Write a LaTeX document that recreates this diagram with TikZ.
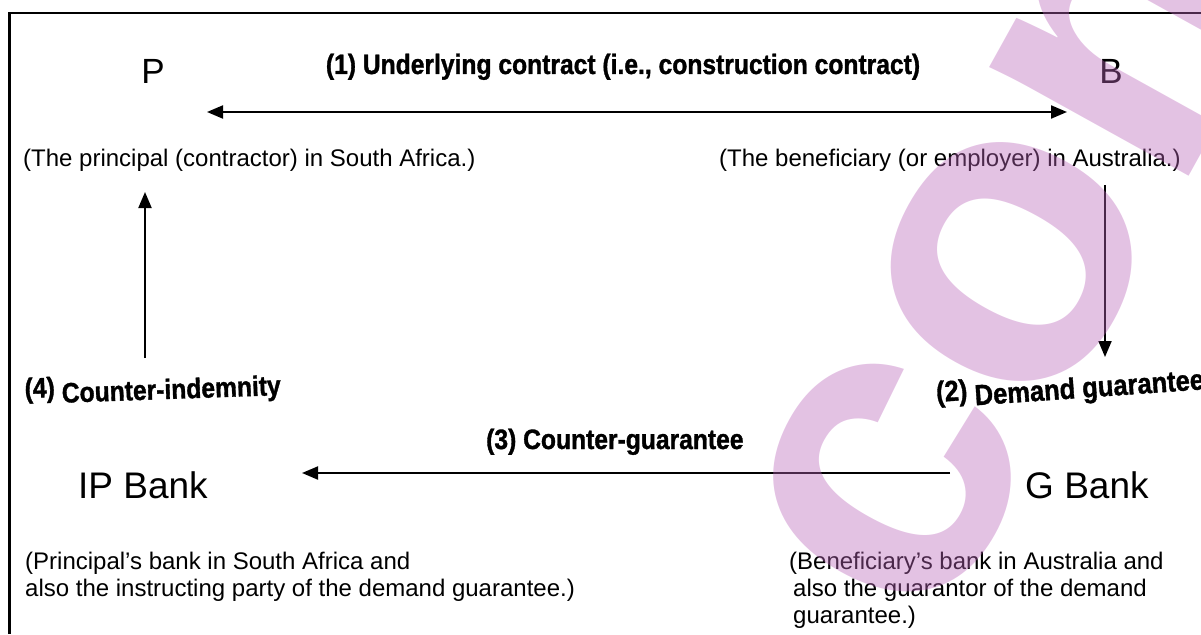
\documentclass[tikz,border=0pt]{standalone}
\usepackage{fontspec}
\setmainfont{Liberation Sans}
\newfontfamily\headfont{Liberation Sans Bold}[FakeStretch=0.88,FakeBold=1.2]
\newfontfamily\wmfont{Liberation Sans Bold}
\usetikzlibrary{arrows.meta}
\definecolor{wmcol}{rgb}{0.73,0.40,0.73}
\tikzset{
  big/.style={font=\fontsize{35}{35}\selectfont, inner sep=0pt, anchor=base},
  bank/.style={font=\fontsize{37}{37}\selectfont, inner sep=0pt, anchor=base west},
  desc/.style={font=\fontsize{24}{27}\selectfont, inner sep=0pt, anchor=north west, align=left},
  lab/.style={font=\headfont\fontsize{28}{28}\selectfont, inner sep=0pt, anchor=base west},
  conn/.style={line width=2pt},
  frameline/.style={line width=2.5pt},
  wm/.style={font=\wmfont\fontsize{430}{430}\selectfont, text=wmcol, text opacity=0.4, inner sep=0pt},
  >={Triangle[length=16pt,width=13pt]}
}
\begin{document}
\begin{tikzpicture}[x=1pt,y=-1pt]
\useasboundingbox (0,0) rectangle (1201,634);
% frame
\coordinate (f0) at (9.5,634);
\coordinate (f1) at (9.5,13);
\coordinate (f2) at (1201,13);
\draw[frameline] (f0) -- (f1) -- (f2);
% parties
\node[big] (P) at (153,83) {P};
\node[big] (B) at (1111,83) {B};
\node[bank] (IP) at (78,498) {IP Bank};
\node[bank] (G) at (1025,498) {G Bank};
% descriptions
\node[desc] (Pd) at (23,148.5) {(The principal (contractor) in South Africa.)};
\node[desc] (Bd) at (719,148.5) {(The beneficiary (or employer) in Australia.)};
\node[desc] (IPd) at (25,551.5) {(Principal’s bank in South Africa and\\also the instructing party of the demand guarantee.)};
\node[desc] (Gd) at (789,551.5) {(Beneficiary’s bank in Australia and\\\hspace{4pt}also the guarantor of the demand\\\hspace{4pt}guarantee.)};
% labels
\node[lab, anchor=base] (L1) at (623,74) {(1) Underlying contract (i.e., construction contract)};
\node[lab, rotate=2] (L4) at (25,404) {\raisebox{6pt}{(4)} Counter-indemnity};
\node[lab] (L3) at (486,449) {(3) Counter-guarantee};
\node[lab, rotate=4, font=\headfont\fontsize{29}{29}\selectfont] (L2) at (937,408) {\raisebox{6pt}{(2)} Demand guarantee};
% connectors
\coordinate (t1) at (207,112);
\coordinate (t2) at (1067,112);
\draw[conn, <->] (t1) -- (t2);
\coordinate (r1) at (1105,185);
\coordinate (r2) at (1105,357);
\draw[conn, ->] (r1) -- (r2);
\coordinate (g1) at (950,473);
\coordinate (g2) at (302,473);
\draw[conn, ->] (g1) -- (g2);
\coordinate (l1) at (145,358);
\coordinate (l2) at (145,192);
\draw[conn, ->] (l1) -- (l2);
% watermark
\node[wm, rotate=61] (wmk) at (1046,200) {com};
\end{tikzpicture}
\end{document}
